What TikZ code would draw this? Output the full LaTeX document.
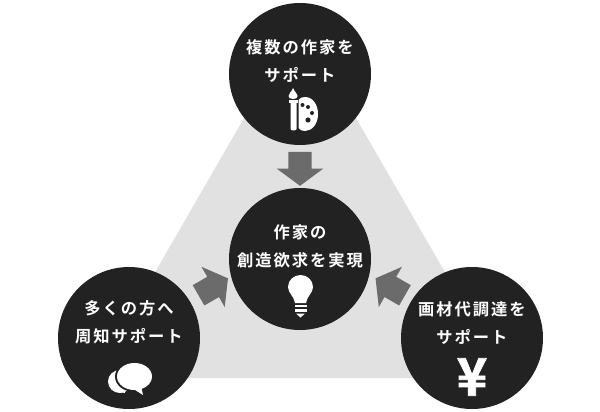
\documentclass[tikz,border=0pt]{standalone}
\usepackage{fontspec}
\usetikzlibrary{shapes.arrows}
\newfontfamily\jpfont[LetterSpace=12]{Noto Sans CJK JP Bold}
\newfontfamily\yenfont[FakeBold=1.5]{Noto Sans CJK JP Bold}
\definecolor{discfill}{HTML}{222222}
\definecolor{backfill}{HTML}{E1E1E1}
\definecolor{arrowfill}{HTML}{6B6B6B}
\tikzset{
  disc/.style={circle, fill=discfill, minimum size=142pt, inner sep=0pt},
  caption/.style={text=white, font=\jpfont\fontsize{16.3}{28}\selectfont, align=center},
  flowarrow/.style={single arrow, fill=arrowfill, inner sep=0pt, text width=0pt, text height=23pt,
    text depth=0pt, minimum height=34pt, single arrow head extend=11.5pt,
    single arrow tip angle=107, rotate=#1}
}

\begin{document}
\begin{tikzpicture}[x=1pt, y=-1pt]
  \useasboundingbox (0,0) rectangle (600,412);
  \fill[backfill] (300,21) -- (506,378) -- (94,378) -- cycle;

  \node[flowarrow=-90] (arrowtop) at (300,164.5) {};
  \node[flowarrow=30] (arrowleft) at (209.5,289) {};
  \node[flowarrow=150] (arrowright) at (394,289) {};

  \node[disc] (top) at (300,74) {};
  \node[disc] (center) at (300,259) {};
  \node[disc] (left) at (129,338) {};
  \node[disc] (right) at (472,338) {};

  \node[caption] (toptext) at (300,61) {複数の作家を\\サポート};
  \node[caption] (centertext) at (300,246) {作家の\\創造欲求を実現};
  \node[caption] (lefttext) at (129,322) {多くの方へ\\周知サポート};
  \node[caption] (righttext) at (472,323) {画材代調達を\\サポート};

  % palette and brush
  \fill[white] (305,97) .. controls (313,97) and (318,105) .. (318,114)
    .. controls (318,124) and (312,131) .. (305,131)
    .. controls (302,131) and (300,130) .. (298.5,128) -- (298.5,100)
    .. controls (300,98) and (302,97) .. (305,97) -- cycle;
  \fill[discfill] (302.5,105) circle (2pt) (308,107) circle (2pt) (312,113) circle (2pt) (308,120) circle (2.6pt);
  \fill[white] (288.5,100) rectangle (297.5,103);
  \fill[white] (290.5,103) -- (296.5,103) -- (296.5,129) .. controls (296.5,131) and (290.5,131) .. (290.5,129) -- cycle;
  \fill[white] (293,88) .. controls (294,91) and (297.5,94) .. (297.5,96)
    .. controls (297.5,98) and (296,99) .. (293,99)
    .. controls (290,99) and (288.5,98) .. (288.5,96)
    .. controls (288.5,93) and (292,92) .. (293,88) -- cycle;

  % bulb
  \fill[white] (300.5,275) .. controls (307,275) and (313,280) .. (313,287)
    .. controls (313,293) and (307,296) .. (306,303) -- (295,303)
    .. controls (294,296) and (288,293) .. (288,287)
    .. controls (288,280) and (294,275) .. (300.5,275) -- cycle;
  \fill[white] (294.5,304.5) rectangle (306.5,307);
  \fill[white] (294.5,309) rectangle (306.5,311.5);
  \fill[white] (296,313.5) -- (305,313.5) -- (300.5,317.5) -- cycle;

  % speech bubbles
  \fill[white] (120,381.5) ellipse (12pt and 11.5pt);
  \fill[white] (113,390) -- (125,393) -- (124,386) -- cycle;
  \fill[discfill] (134.5,376.5) ellipse (19.5pt and 15.5pt);
  \fill[discfill] (128,388) -- (145,397) -- (150,386) -- cycle;
  \fill[white] (134.5,376.5) ellipse (17.5pt and 13.5pt);
  \fill[white] (132,388) -- (143,395) -- (141,386) -- cycle;

  \node[text=white, font=\yenfont\fontsize{52}{52}\selectfont, inner sep=0pt] (yen) at (472,377) {¥};
\end{tikzpicture}
\end{document}
